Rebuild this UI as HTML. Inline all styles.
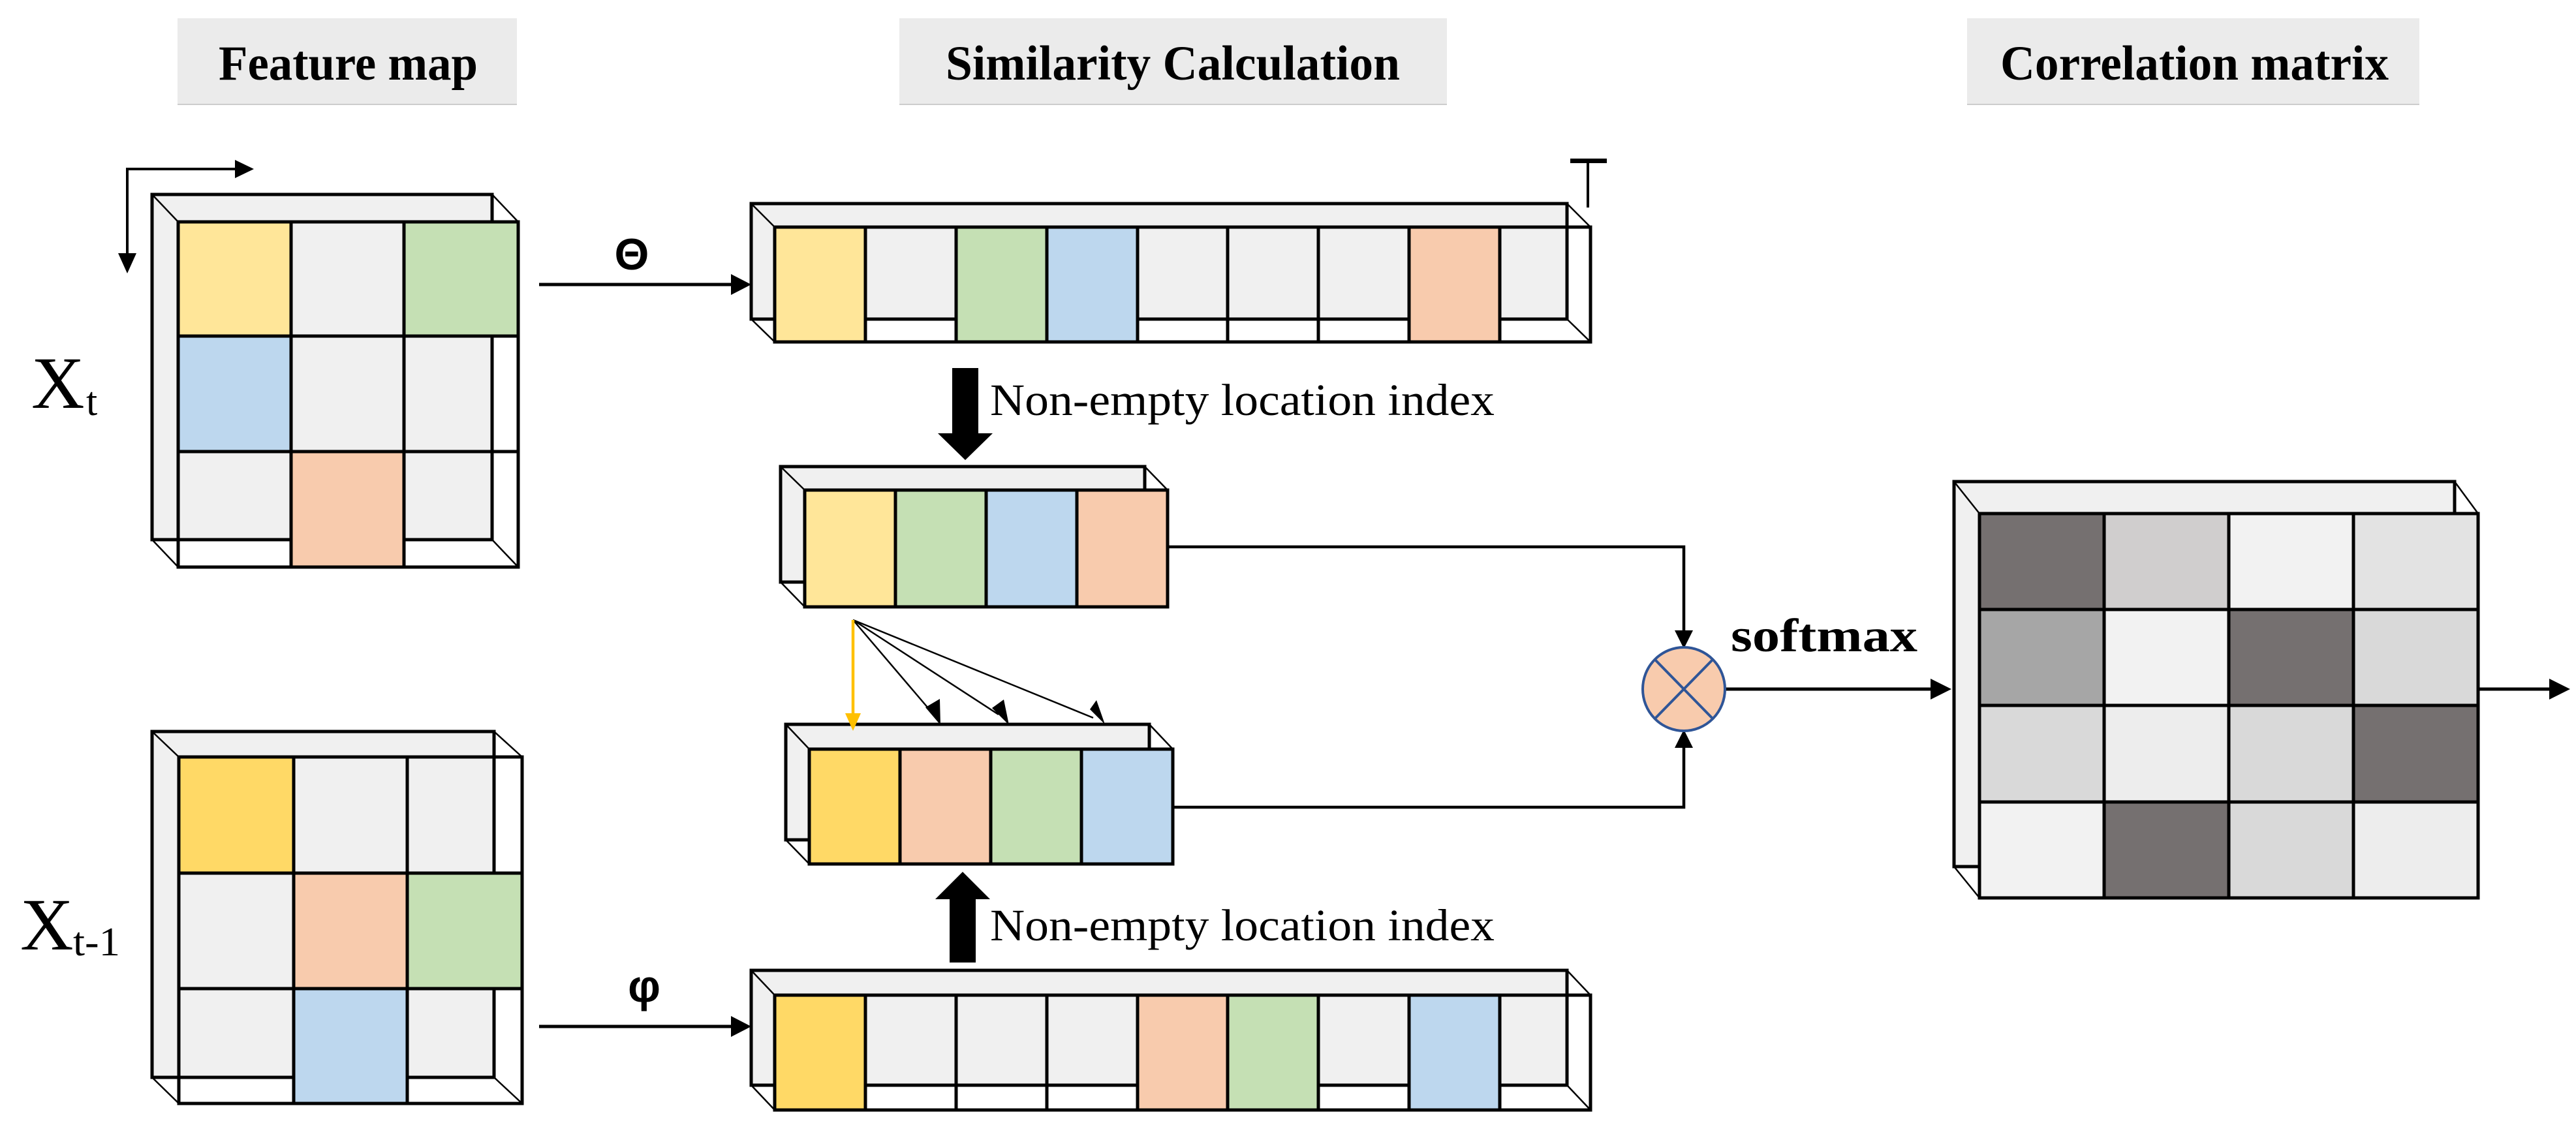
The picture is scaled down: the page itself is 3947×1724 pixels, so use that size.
<!DOCTYPE html>
<html><head><meta charset="utf-8"><style>html,body{margin:0;padding:0;background:#fff}svg{display:block}</style></head>
<body>
<svg width="3947" height="1724" viewBox="0 0 3947 1724" xmlns="http://www.w3.org/2000/svg" font-family="'Liberation Serif', serif">
<rect width="3947" height="1724" fill="#fff"/>
<!-- headers -->
<rect x="272" y="28" width="520" height="132" fill="#ebebeb"/><line x1="272" y1="160" x2="792" y2="160" stroke="#ccc" stroke-width="2"/>
<text x="335" y="122" font-size="75" font-weight="bold" textLength="397" lengthAdjust="spacingAndGlyphs">Feature map</text>
<rect x="1378" y="28" width="839" height="132" fill="#ebebeb"/><line x1="1378" y1="160" x2="2217" y2="160" stroke="#ccc" stroke-width="2"/>
<text x="1449" y="122" font-size="75" font-weight="bold" textLength="696" lengthAdjust="spacingAndGlyphs">Similarity Calculation</text>
<rect x="3014" y="28" width="693" height="132" fill="#ebebeb"/><line x1="3014" y1="160" x2="3707" y2="160" stroke="#ccc" stroke-width="2"/>
<text x="3065" y="122" font-size="75" font-weight="bold" textLength="595" lengthAdjust="spacingAndGlyphs">Correlation matrix</text>

<g stroke="#000" stroke-width="5">
<!-- Xt -->
<rect x="273" y="340" width="521" height="529" fill="#fff"/>
<rect x="233" y="298" width="521" height="529" fill="#f0f0f0"/>
<rect x="273" y="340" width="173" height="175" fill="#ffe699"/>
<rect x="619" y="340" width="175" height="175" fill="#c5e0b4"/>
<rect x="273" y="515" width="173" height="177" fill="#bdd7ee"/>
<rect x="446" y="692" width="173" height="177" fill="#f8cbad"/>
<rect x="273" y="340" width="521" height="529" fill="none"/>
<path d="M446 340V869M619 340V869M273 515H794M273 692H794" fill="none"/>
<path d="M233 298L273 340M754 298L794 340M233 827L273 869M754 827L794 869" stroke-width="2.5" fill="none"/>

<!-- Xt-1 -->
<rect x="274" y="1160" width="526" height="531" fill="#fff"/>
<rect x="233" y="1121" width="524" height="530" fill="#f0f0f0"/>
<rect x="274" y="1160" width="176" height="178" fill="#ffd966"/>
<rect x="450" y="1338" width="174" height="177" fill="#f8cbad"/>
<rect x="624" y="1338" width="176" height="177" fill="#c5e0b4"/>
<rect x="450" y="1515" width="174" height="176" fill="#bdd7ee"/>
<rect x="274" y="1160" width="526" height="531" fill="none"/>
<path d="M450 1160V1691M624 1160V1691M274 1338H800M274 1515H800" fill="none"/>
<path d="M233 1121L274 1160M757 1121L800 1160M233 1651L274 1691M757 1651L800 1691" stroke-width="2.5" fill="none"/>

<!-- top strip -->
<rect x="1187" y="348" width="1250" height="176" fill="#fff"/>
<rect x="1151" y="312" width="1250" height="177" fill="#f0f0f0"/>
<rect x="1187" y="348" width="139" height="176" fill="#ffe699"/>
<rect x="1465" y="348" width="139" height="176" fill="#c5e0b4"/>
<rect x="1604" y="348" width="139" height="176" fill="#bdd7ee"/>
<rect x="2159" y="348" width="139" height="176" fill="#f8cbad"/>
<rect x="1187" y="348" width="1250" height="176" fill="none"/>
<path d="M1326 348V524M1465 348V524M1604 348V524M1743 348V524M1881 348V524M2020 348V524M2159 348V524M2298 348V524" fill="none"/>
<path d="M1151 312L1187 348M2401 312L2437 348M1151 489L1187 524M2401 489L2437 524" stroke-width="2.5" fill="none"/>

<!-- strip A -->
<rect x="1233" y="751" width="556" height="179" fill="#fff"/>
<rect x="1196" y="715" width="558" height="177" fill="#f0f0f0"/>
<rect x="1233" y="751" width="139" height="179" fill="#ffe699"/>
<rect x="1372" y="751" width="139" height="179" fill="#c5e0b4"/>
<rect x="1511" y="751" width="139" height="179" fill="#bdd7ee"/>
<rect x="1650" y="751" width="139" height="179" fill="#f8cbad"/>
<path d="M1196 715L1233 751M1754 715L1789 751M1196 892L1233 930" stroke-width="2.5" fill="none"/>

<!-- strip B -->
<rect x="1240" y="1148" width="557" height="176" fill="#fff"/>
<rect x="1204" y="1110" width="557" height="177" fill="#f0f0f0"/>
<rect x="1240" y="1148" width="139" height="176" fill="#ffd966"/>
<rect x="1379" y="1148" width="139" height="176" fill="#f8cbad"/>
<rect x="1518" y="1148" width="139" height="176" fill="#c5e0b4"/>
<rect x="1657" y="1148" width="140" height="176" fill="#bdd7ee"/>
<path d="M1204 1110L1240 1148M1761 1110L1797 1148M1204 1287L1240 1324" stroke-width="2.5" fill="none"/>

<!-- bottom strip -->
<rect x="1187" y="1525" width="1250" height="176" fill="#fff"/>
<rect x="1151" y="1487" width="1250" height="176" fill="#f0f0f0"/>
<rect x="1187" y="1525" width="139" height="176" fill="#ffd966"/>
<rect x="1743" y="1525" width="138" height="176" fill="#f8cbad"/>
<rect x="1881" y="1525" width="139" height="176" fill="#c5e0b4"/>
<rect x="2159" y="1525" width="139" height="176" fill="#bdd7ee"/>
<rect x="1187" y="1525" width="1250" height="176" fill="none"/>
<path d="M1326 1525V1701M1465 1525V1701M1604 1525V1701M1743 1525V1701M1881 1525V1701M2020 1525V1701M2159 1525V1701M2298 1525V1701" fill="none"/>
<path d="M1151 1487L1187 1525M2401 1487L2437 1525M1151 1663L1187 1701M2401 1663L2437 1701" stroke-width="2.5" fill="none"/>

<!-- matrix -->
<rect x="3033" y="787" width="764" height="589" fill="#fff"/>
<rect x="2994" y="738" width="767" height="590" fill="#f0f0f0"/>
<rect x="3033" y="787" width="191" height="147" fill="#757070"/>
<rect x="3224" y="787" width="191" height="147" fill="#d0cece"/>
<rect x="3415" y="787" width="191" height="147" fill="#f2f2f2"/>
<rect x="3606" y="787" width="191" height="147" fill="#e3e3e3"/>
<rect x="3033" y="934" width="191" height="147" fill="#a6a6a6"/>
<rect x="3224" y="934" width="191" height="147" fill="#f2f2f2"/>
<rect x="3415" y="934" width="191" height="147" fill="#757070"/>
<rect x="3606" y="934" width="191" height="147" fill="#d9d9d9"/>
<rect x="3033" y="1081" width="191" height="148" fill="#d9d9d9"/>
<rect x="3224" y="1081" width="191" height="148" fill="#ededed"/>
<rect x="3415" y="1081" width="191" height="148" fill="#d9d9d9"/>
<rect x="3606" y="1081" width="191" height="148" fill="#757070"/>
<rect x="3033" y="1229" width="191" height="147" fill="#f2f2f2"/>
<rect x="3224" y="1229" width="191" height="147" fill="#757070"/>
<rect x="3415" y="1229" width="191" height="147" fill="#d9d9d9"/>
<rect x="3606" y="1229" width="191" height="147" fill="#ededed"/>
<path d="M2994 738L3033 787M3761 738L3797 787M2994 1328L3033 1376" stroke-width="2.5" fill="none"/>

<!-- connectors -->
<path d="M195 400V259H370" fill="none" stroke-width="4"/>
<path d="M826 436H1125" fill="none"/>
<path d="M826 1573H1125" fill="none"/>
<path d="M1789 838H2580V970" fill="none" stroke-width="4.5"/>
<path d="M1797 1237H2580V1142" fill="none" stroke-width="4.5"/>
<path d="M2643 1056H2960" fill="none"/>
<path d="M3797 1056H3910" fill="none"/>
<path d="M1307 950L1428 1092M1307 950L1530 1095M1307 950L1675 1100" stroke-width="2.5" fill="none"/>
<path d="M1307 950V1095" stroke="#ffc000" stroke-width="4.5" fill="none"/>
</g>
<g fill="#000">
<polygon points="360,245 389,259 360,273"/>
<polygon points="181,388 209,388 195,419"/>
<polygon points="1120,420 1151,436 1120,452"/>
<polygon points="1120,1557 1151,1573 1120,1589"/>
<polygon points="2566,966 2594,966 2580,994"/>
<polygon points="2566,1146 2594,1146 2580,1118"/>
<polygon points="2958,1040 2990,1056 2958,1072"/>
<polygon points="3906,1040 3938,1056 3906,1072"/>
<polygon points="1459,564 1499,564 1499,664 1521,664 1479,705 1437,664 1459,664"/>
<polygon points="1455,1475 1495,1475 1495,1378 1517,1378 1475,1336 1433,1378 1455,1378"/>
<polygon points="1418,1084 1440,1071 1441,1111"/>
<polygon points="1520,1085 1538,1072 1546,1111"/>
<polygon points="1670,1087 1680,1073 1693,1110"/>
</g>
<polygon points="1295,1093 1319,1093 1307,1120" fill="#ffc000"/>
<!-- T -->
<rect x="2406" y="243" width="56" height="7" fill="#000"/><rect x="2431" y="243" width="4" height="75" fill="#000"/>
<!-- circle -->
<ellipse cx="2580" cy="1056" rx="63" ry="64" fill="#f8cbad" stroke="#2f5597" stroke-width="4"/>
<path d="M2536 1011L2624 1101M2624 1011L2536 1101" stroke="#2f5597" stroke-width="4"/>
<!-- labels -->
<text x="48" y="625" font-size="113">X</text><text x="132" y="636" font-size="62">t</text>
<text x="31" y="1455" font-size="113">X</text><text x="112" y="1464" font-size="62" textLength="72" lengthAdjust="spacingAndGlyphs">t-1</text>
<text x="968" y="413" font-size="68" font-weight="bold" text-anchor="middle" font-family="'Liberation Sans', sans-serif">Θ</text>
<text x="987" y="1535" font-size="70" font-weight="bold" text-anchor="middle" font-family="'Liberation Sans', sans-serif">φ</text>
<text x="1517" y="636" font-size="69" textLength="773" lengthAdjust="spacingAndGlyphs">Non-empty location index</text>
<text x="1517" y="1441" font-size="69" textLength="773" lengthAdjust="spacingAndGlyphs">Non-empty location index</text>
<text x="2652" y="998" font-size="72" font-weight="bold" textLength="286" lengthAdjust="spacingAndGlyphs">softmax</text>
</svg>
</body></html>
